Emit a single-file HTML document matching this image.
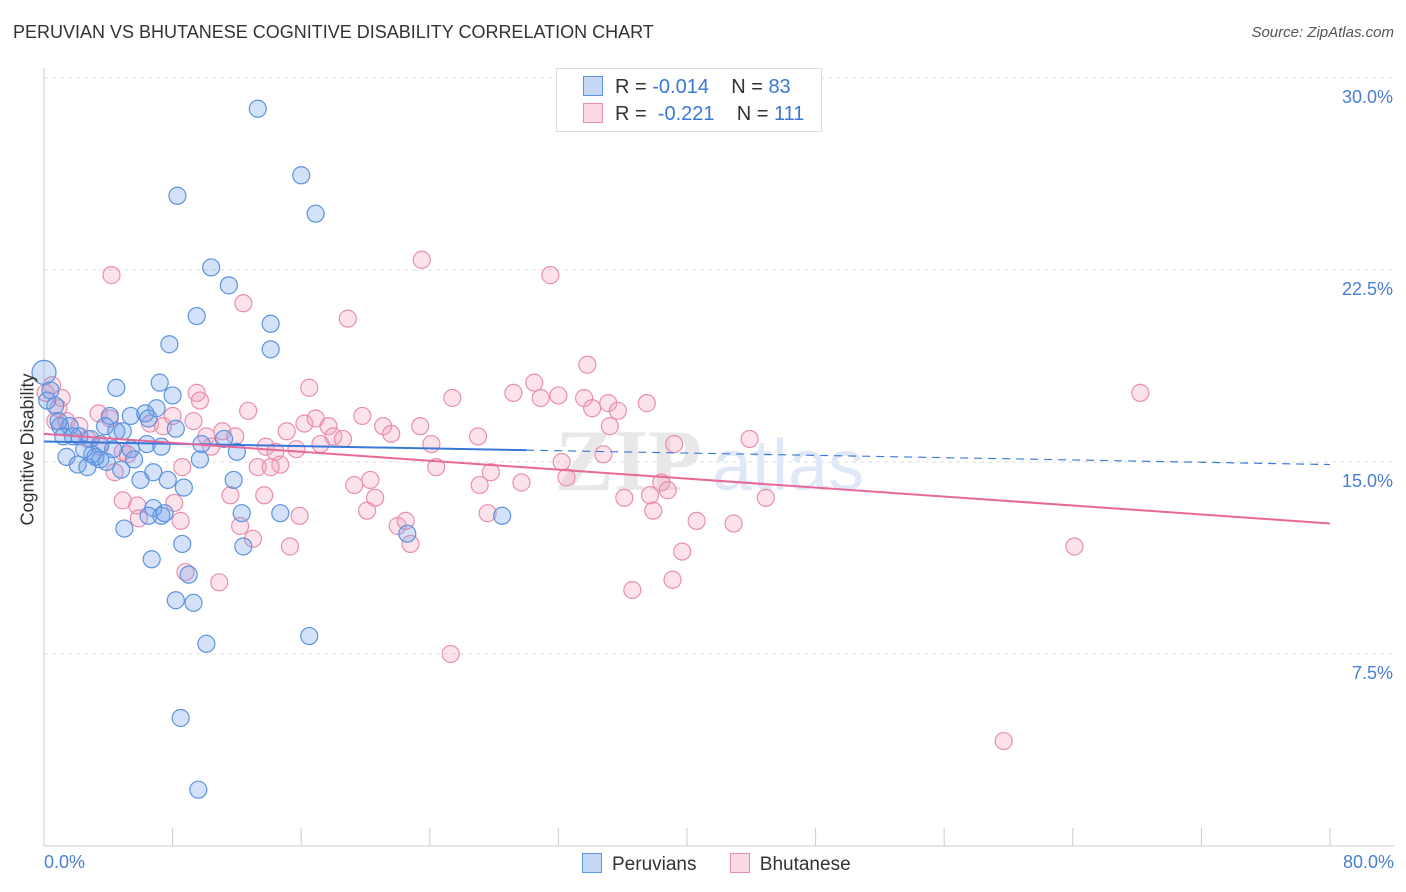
<!DOCTYPE html>
<html><head><meta charset="utf-8">
<style>
body{margin:0;background:#fff;font-family:"Liberation Sans",sans-serif;}
#wrap{position:relative;width:1406px;height:892px;overflow:hidden;}
.t{position:absolute;white-space:nowrap;}
</style></head>
<body>
<div id="wrap">
<div class="t" style="left:13px;top:22px;font-size:18px;color:#333;">PERUVIAN VS BHUTANESE COGNITIVE DISABILITY CORRELATION CHART</div>
<div class="t" style="right:12px;top:24px;font-size:15px;color:#555;font-style:italic;">Source: ZipAtlas.com</div>
<svg id="svg" width="1406" height="892" style="position:absolute;left:0;top:0"></svg>
</div>
<script>
const blueX=[13.3,16.0,8.3,16.9,10.4,11.5,9.5,14.1,14.1,7.8,0.0,0.4,4.5,7.2,8.0,0.2,0.7,7.0,4.1,5.4,6.3,6.5,1.0,1.6,2.2,2.9,3.8,4.5,4.9,8.2,1.2,1.8,3.5,4.3,5.4,6.4,7.3,9.8,11.2,12.0,1.4,2.1,2.7,3.0,3.5,3.9,5.6,4.8,9.7,6.8,7.7,11.8,6.0,8.7,5.0,6.8,7.3,6.5,7.5,12.3,14.7,28.5,22.6,8.6,12.4,6.7,9.0,8.2,9.3,10.1,16.5,8.5,9.6,0.9,2.5,3.2];
const blueY=[28.8,26.2,25.4,24.7,22.6,21.9,20.7,20.4,19.4,19.6,18.5,17.8,17.9,18.1,17.6,17.4,17.2,17.1,16.8,16.8,16.9,16.7,16.4,16.4,16.0,15.9,16.4,16.2,16.2,16.3,16.0,16.0,15.7,15.5,15.5,15.7,15.6,15.7,15.9,15.4,15.2,14.9,14.8,15.3,15.1,15.0,15.1,14.7,15.1,14.6,14.3,14.3,14.3,14.0,12.4,13.2,12.9,12.9,13.0,13.0,13.0,12.9,12.2,11.8,11.7,11.2,10.6,9.6,9.5,7.9,8.2,5.0,2.2,16.6,15.5,15.2];
const pinkX=[4.2,23.5,31.5,12.4,18.9,33.8,68.2,0.5,0.1,1.1,0.9,0.7,1.4,2.2,3.4,4.1,2.7,3.5,4.4,4.9,5.2,4.9,5.8,5.9,6.6,7.4,8.0,8.1,8.6,8.8,8.5,9.5,9.7,9.3,10.1,10.4,10.9,11.1,11.6,11.9,12.7,12.2,13.0,13.3,13.7,13.8,14.4,14.7,14.1,15.1,15.3,15.9,15.7,16.5,16.2,16.9,17.2,17.7,18.0,18.6,19.3,19.8,20.1,20.3,20.6,21.1,21.6,22.0,22.5,22.8,23.4,24.1,24.4,25.4,25.3,27.1,27.0,27.6,27.8,29.2,29.7,30.5,30.9,32.0,32.2,32.5,33.6,34.1,34.8,35.1,35.7,36.1,36.6,37.5,37.7,37.9,38.4,38.8,39.1,39.2,39.7,40.6,42.9,43.9,44.9,64.1,59.7,35.2];
const pinkY=[22.3,22.9,22.3,21.2,20.6,18.8,17.7,18.0,17.7,17.5,17.1,16.6,16.6,16.4,16.9,16.7,15.9,15.6,14.6,15.4,15.3,13.5,13.3,12.8,16.5,16.4,16.8,13.4,14.8,10.7,12.7,17.7,17.4,16.6,16.0,15.6,10.3,16.2,13.7,16.0,17.0,12.5,12.0,14.8,13.7,15.6,15.4,14.9,14.8,16.2,11.7,12.9,15.5,17.9,16.5,16.7,15.7,16.4,16.0,15.9,14.1,16.8,13.1,14.3,13.6,16.4,16.1,12.5,12.7,11.8,16.4,15.7,14.8,17.5,7.5,14.1,16.0,13.0,14.6,17.7,14.2,18.1,17.5,17.6,15.0,14.4,17.5,17.1,15.3,17.3,17.0,13.6,10.0,17.3,13.7,13.1,14.2,13.9,10.4,15.7,11.5,12.7,12.6,15.9,13.6,11.7,4.1,16.4];
const blueTrend=[15.8,14.9]; // at x=0 and x=80
const pinkTrend=[16.1,12.6];
const yTicks=[7.5,15.0,22.5,30.0];
const yTickLabels=["7.5%","15.0%","22.5%","30.0%"];

const NS="http://www.w3.org/2000/svg";
const svg=document.getElementById('svg');
const X=v=>44+v/80*1286;
const Y=v=>846-v/30*768;
function mk(t,a){const e=document.createElementNS(NS,t);for(const k in a)e.setAttribute(k,a[k]);svg.appendChild(e);return e;}

yTicks.forEach((t,i)=>{
  const g=mk('line',{x1:44,x2:1394,y1:Y(t),y2:Y(t),stroke:'#dcdcdc','stroke-dasharray':'4,4'});
  
  
  const tx=mk('text',{x:1393,y:Y(t)+25,'text-anchor':'end','font-size':18,fill:'#4a7fd4','font-family':'Liberation Sans, sans-serif'});
  tx.textContent=yTickLabels[i];
  
  
});
let a=mk('line',{x1:44,x2:44,y1:68,y2:846,stroke:'#ccc'});


a=mk('line',{x1:44,x2:1394,y1:846,y2:846,stroke:'#ccc'});


for(let i=0;i<=10;i++){const tk=mk('line',{x1:X(i*8),x2:X(i*8),y1:828,y2:846,stroke:'#ccc'});
  
  }

const wm=mk('text',{x:555,y:490,'font-size':88,fill:'#e8e8e8','font-family':'Liberation Serif, serif','font-weight':'bold'});
wm.textContent='ZIP';


const wm2=mk('text',{x:712,y:490,'font-size':72,fill:'#dfe8f6','font-family':'Liberation Sans, sans-serif'});
wm2.textContent='atlas';



pinkX.forEach((x,i)=>{const c=mk('circle',{cx:X(x),cy:Y(pinkY[i]),r:8.5,fill:'rgba(242,160,188,0.3)',stroke:'#e98fae','stroke-width':1.2});
  
  });
blueX.forEach((x,i)=>{const c=mk('circle',{cx:X(x),cy:Y(blueY[i]),r:i==10?12:8.5,fill:'rgba(110,160,235,0.3)',stroke:'#5e93de','stroke-width':1.2});
  
  });

const bAt=v=>blueTrend[0]+(blueTrend[1]-blueTrend[0])*v/80;
let l=mk('line',{x1:X(0),y1:Y(bAt(0)),x2:X(30),y2:Y(bAt(30)),stroke:'#3a78d8','stroke-width':2});


l=mk('line',{x1:X(30),y1:Y(bAt(30)),x2:X(80),y2:Y(bAt(80)),stroke:'#3a78d8','stroke-width':1.2,'stroke-dasharray':'8,6'});


l=mk('line',{x1:X(0),y1:Y(pinkTrend[0]),x2:X(80),y2:Y(pinkTrend[1]),stroke:'#e8689a','stroke-width':2});


</script>
<div class="t" style="left:-42px;top:445px;font-size:18px;color:#333;transform:rotate(-90deg);transform-origin:center;width:140px;text-align:center;">Cognitive Disability</div>
<div class="t" style="left:44px;top:852px;font-size:18px;color:#4a7fd4;">0.0%</div>
<div class="t" style="right:12px;top:852px;font-size:18px;color:#4a7fd4;">80.0%</div>
<div style="position:absolute;left:556px;top:68px;width:264px;height:62px;border:1px solid #ddd;background:#fff;font-size:20px;color:#333;">
 <div style="position:absolute;left:26px;top:7px;white-space:nowrap;"><span style="display:inline-block;width:18px;height:18px;background:rgba(110,160,235,0.4);border:1px solid #5e93de;vertical-align:-3px;margin-right:12px;"></span>R = <span style="color:#3a78d8">-0.014</span>&nbsp;&nbsp;&nbsp; N = <span style="color:#3a78d8">83</span></div>
 <div style="position:absolute;left:26px;top:34px;white-space:nowrap;"><span style="display:inline-block;width:18px;height:18px;background:rgba(242,160,188,0.4);border:1px solid #e98fae;vertical-align:-3px;margin-right:12px;"></span>R = &nbsp;<span style="color:#3a78d8">-0.221</span>&nbsp;&nbsp;&nbsp; N = <span style="color:#3a78d8">111</span></div>
</div>
<div style="position:absolute;left:582px;top:853px;font-size:19px;color:#333;white-space:nowrap;">
 <span><span style="display:inline-block;width:18px;height:18px;background:rgba(110,160,235,0.4);border:1px solid #5e93de;vertical-align:-3px;margin-right:10px;"></span>Peruvians</span>
 <span style="margin-left:28px;"><span style="display:inline-block;width:18px;height:18px;background:rgba(242,160,188,0.4);border:1px solid #e98fae;vertical-align:-3px;margin-right:10px;"></span>Bhutanese</span>
</div>
</body></html>
